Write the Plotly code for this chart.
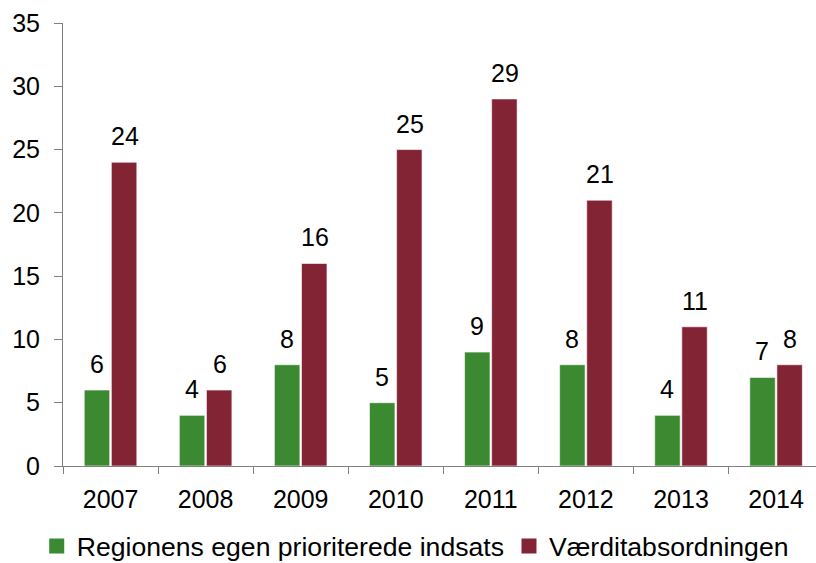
import plotly.graph_objects as go

years = ["2007", "2008", "2009", "2010", "2011", "2012", "2013", "2014"]
regionens = [6, 4, 8, 5, 9, 8, 4, 7]
vaerdi = [24, 6, 16, 25, 29, 21, 11, 8]
names = ["Regionens egen prioriterede indsats", "Værditabsordningen"]
colors = ["#3B8A31", "#832434"]
y_ticks = [0, 5, 10, 15, 20, 25, 30, 35]

FONT = "Liberation Sans, Arial, sans-serif"
FS = 25

fig = go.Figure()
for vals, name, col in [(regionens, names[0], colors[0]), (vaerdi, names[1], colors[1])]:
    fig.add_trace(go.Bar(
        x=years, y=vals, name=name, marker_color=col,
        marker_line_color="rgba(255,255,255,0.6)", marker_line_width=1,
        showlegend=False,
    ))
# legend entries with larger square swatches
for name, col in zip(names, colors):
    fig.add_trace(go.Scatter(
        x=[None], y=[None], mode="markers", name=name,
        marker=dict(symbol="square", size=15, color=col),
        showlegend=True,
    ))

# value labels above each bar (category index positions on the category axis)
for vals, shift in [(regionens, -14), (vaerdi, 14)]:
    for i, v in enumerate(vals):
        fig.add_annotation(x=i, y=v, xref="x", yref="y", text=str(v), showarrow=False,
                           xshift=shift, yshift=10, yanchor="bottom",
                           font=dict(size=FS, color="black", family=FONT))

fig.update_layout(
    width=816, height=563,
    margin=dict(l=63, r=0, t=23, b=97, autoexpand=False),
    paper_bgcolor="white", plot_bgcolor="white",
    barmode="group", bargap=0.43, bargroupgap=0.06,
    font=dict(family=FONT, size=FS, color="black"),
    showlegend=True,
    legend=dict(orientation="h", xref="container", yref="container",
                x=0.045, xanchor="left", y=0.03, yanchor="middle",
                font=dict(size=26.6), itemwidth=30, traceorder="normal",
                itemsizing="trace"),
)
fig.update_xaxes(
    type="category", categoryorder="array", categoryarray=years,
    range=[-0.5, len(years) - 0.58],
    showline=True, linecolor="#808080", linewidth=1,
    ticks="outside", ticklen=7, tickcolor="#808080", tickson="boundaries",
    showgrid=False, tickfont=dict(size=FS), tickangle=0, automargin=False,
    ticklabelstandoff=11,
)
fig.update_yaxes(
    range=[0, 35], tickvals=y_ticks, showline=True, linecolor="#808080", linewidth=1,
    ticks="outside", ticklen=8, tickcolor="#808080", showgrid=False, zeroline=False,
    tickfont=dict(size=FS), ticklabelstandoff=9, automargin=False,
)

fig.write_html("out.html", config={"displayModeBar": False},
               post_script="document.body.style.margin='0px';document.body.style.padding='0px';")
